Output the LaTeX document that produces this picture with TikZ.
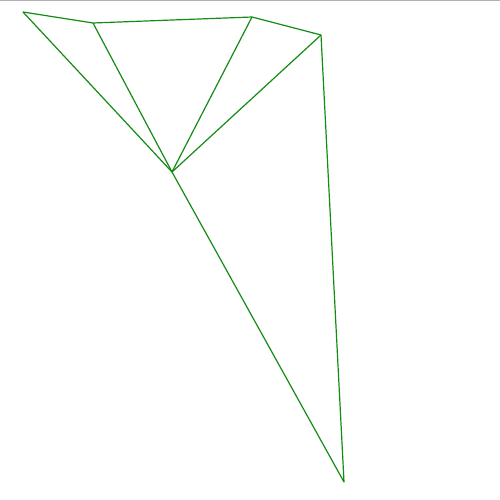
\documentclass[tikz,border=0pt]{standalone}
\definecolor{edgegreen}{RGB}{20,140,20}
\begin{document}
\begin{tikzpicture}[x=1pt,y=-1pt,edge/.style={draw=edgegreen,line width=1.2pt,line join=round}]
\useasboundingbox (0,0) rectangle (500,500);
\fill[white] (0,0) rectangle (500,500);
\coordinate (tl) at (0,0.6);
\coordinate (tr) at (500,0.6);
\draw[gray!60,line width=1.2pt] (tl) -- (tr);
\coordinate (A) at (23,12);
\coordinate (B) at (93,23);
\coordinate (C) at (252,17);
\coordinate (D) at (321,35);
\coordinate (E) at (172,172);
\coordinate (F) at (344,482);
\draw[edge] (A) -- (B) -- (C) -- (D);
\draw[edge] (A) -- (E);
\draw[edge] (B) -- (E);
\draw[edge] (C) -- (E);
\draw[edge] (D) -- (E);
\draw[edge] (E) -- (F) -- (D);
\end{tikzpicture}
\end{document}
